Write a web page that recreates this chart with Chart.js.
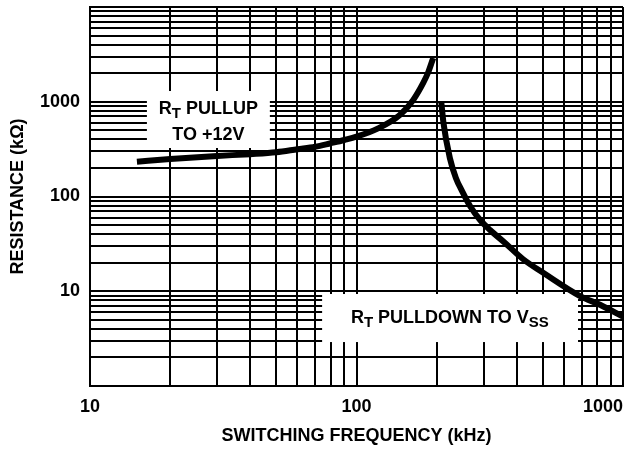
<!DOCTYPE html>
<html>
<head>
<meta charset="utf-8">
<script src="https://cdn.jsdelivr.net/npm/chart.js@4.4.1/dist/chart.umd.min.js"></script>
<style>
  body { margin: 0; background: #fff; }
</style>
</head>
<body>
<canvas id="rtChart" width="631" height="449"></canvas>
<script>
// curves (kHz -> kOhm)
const pullupFreq = [15, 20, 30, 40, 50, 60, 70, 80, 90, 100, 120, 145, 163, 178, 186, 194];
const pullupRes  = [233, 249, 268, 280, 293, 315, 335, 365, 395, 428, 520, 720, 1040, 1580, 2060, 2900];
const pulldownFreq = [208, 212, 224, 236, 249, 267, 291, 317, 361, 421, 510, 690, 820, 1000];
const pulldownRes  = [1000, 597, 255, 157, 114, 79, 56.5, 44.3, 32.3, 21.9, 15.2, 8.9, 7.2, 5.4];

// axes
const xRange = [10, 1000];
const yRange = [1, 10000];
const xLabels = [10, 100, 1000];
const yLabels = [10, 100, 1000];

const FONT = '"Liberation Sans", Arial, Helvetica, sans-serif';

// 1..9 in every decade -> log paper grid
function decadeGrid(min, max) {
  const out = [];
  for (let d = min; d < max; d *= 10) {
    for (let k = 1; k < 10; k++) out.push(k * d);
  }
  out.push(max);
  return out;
}
const xGrid = decadeGrid(xRange[0], xRange[1]);
const yGrid = decadeGrid(yRange[0], yRange[1]);

// white label boxes on the paper (data coords)
const boxes = [
  { x0: 16.35, x1: 47.3, y0: 1298, y1: 325,
    lines: [
      { cx: 27.8, base: 740, parts: [['R'], ['T', true], [' PULLUP']] },
      { cx: 27.8, base: 395, parts: [['TO +12V']] }
    ] },
  { x0: 74.3, x1: 678, y0: 9.35, y1: 2.91,
    lines: [
      { cx: 224, base: 4.62, parts: [['R'], ['T', true], [' PULLDOWN TO V'], ['SS', true]] }
    ] }
];

const labelBoxes = {
  id: 'labelBoxes',
  beforeDatasetsDraw(chart) {
    const { ctx, scales: { x, y } } = chart;
    ctx.save();
    for (const b of boxes) {
      const l = x.getPixelForValue(b.x0), r = x.getPixelForValue(b.x1);
      const t = y.getPixelForValue(b.y0), bt = y.getPixelForValue(b.y1);
      ctx.fillStyle = '#fff';
      ctx.fillRect(l, t, r - l, bt - t);

      ctx.fillStyle = '#000';
      ctx.textBaseline = 'alphabetic';
      ctx.textAlign = 'left';
      for (const ln of b.lines) {
        let total = 0;
        for (const [txt, sub] of ln.parts) {
          ctx.font = 'bold ' + (sub ? 15 : 18) + 'px ' + FONT;
          total += ctx.measureText(txt).width;
        }
        let px = x.getPixelForValue(ln.cx) - total / 2;
        const py = y.getPixelForValue(ln.base);
        for (const [txt, sub] of ln.parts) {
          ctx.font = 'bold ' + (sub ? 15 : 18) + 'px ' + FONT;
          ctx.fillText(txt, px, py + (sub ? 4 : 0));
          px += ctx.measureText(txt).width;
        }
      }
    }
    ctx.restore();
  }
};

Chart.defaults.font.family = FONT;
Chart.defaults.font.size = 18;
Chart.defaults.font.weight = 'bold';
Chart.defaults.color = '#000';

const curve = {
  borderColor: '#000',
  borderWidth: 6,
  pointRadius: 0,
  showLine: true,
  cubicInterpolationMode: 'monotone',
  borderCapStyle: 'butt'
};

new Chart(document.getElementById('rtChart'), {
  type: 'scatter',
  data: {
    datasets: [
      { ...curve, label: 'RT pullup to +12V',
        data: pullupFreq.map((f, i) => ({ x: f, y: pullupRes[i] })) },
      { ...curve, label: 'RT pulldown to VSS',
        data: pulldownFreq.map((f, i) => ({ x: f, y: pulldownRes[i] })) }
    ]
  },
  options: {
    responsive: false,
    animation: false,
    layout: { padding: { top: 7, right: 8, left: 0, bottom: 0 } },
    plugins: { legend: { display: false }, tooltip: { enabled: false } },
    scales: {
      x: {
        type: 'logarithmic',
        min: xRange[0],
        max: xRange[1],
        afterBuildTicks: s => { s.ticks = [xRange[0], ...xGrid].map(v => ({ value: v })); },
        afterFit: s => { s.height = 63; s.paddingLeft = 0; s.paddingRight = 0; },
        grid: { color: '#000', lineWidth: 2, drawTicks: false },
        border: { color: '#000', width: 2 },
        ticks: {
          autoSkip: false,
          maxRotation: 0,
          align: 'inner',
          padding: 10,
          callback: (v, i) => (i > 0 && xLabels.includes(v)) ? String(v) : ''
        },
        title: { display: true, text: 'SWITCHING FREQUENCY (kHz)', padding: { top: 0, bottom: 2 } }
      },
      y: {
        type: 'logarithmic',
        min: yRange[0],
        max: yRange[1],
        afterBuildTicks: s => { s.ticks = yGrid.map(v => ({ value: v })); },
        afterFit: s => { s.width = 90; s.paddingTop = 0; s.paddingBottom = 0; },
        grid: { color: '#000', lineWidth: 2, drawTicks: false },
        border: { color: '#000', width: 2 },
        ticks: {
          autoSkip: false,
          padding: 10,
          callback: v => yLabels.includes(v) ? String(v) : ''
        },
        title: { display: true, text: 'RESISTANCE (kΩ)', padding: { top: 7, bottom: 0 } }
      }
    }
  },
  plugins: [labelBoxes]
});
</script>
</body>
</html>
